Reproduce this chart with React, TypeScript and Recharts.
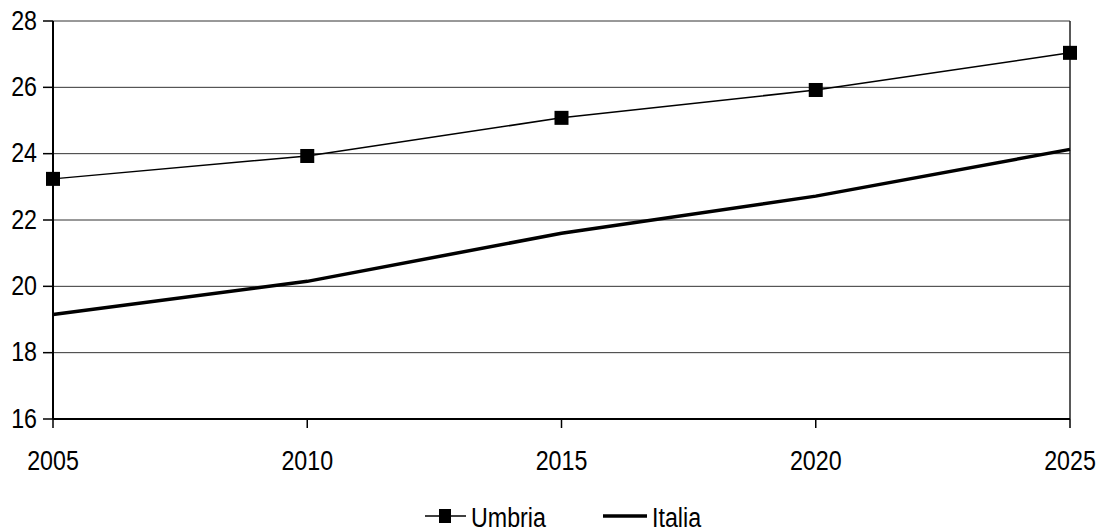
import React from "react";
import {
  LineChart,
  Line,
  XAxis,
  YAxis,
  CartesianGrid,
  Legend,
  ReferenceLine,
} from "recharts";

// Years and the two series (values in %)
const YEARS = [2005, 2010, 2015, 2020, 2025];
const UMBRIA = [23.24, 23.93, 25.08, 25.92, 27.04];
const ITALIA = [19.15, 20.15, 21.6, 22.72, 24.13];
const Y_TICKS = [16, 18, 20, 22, 24, 26, 28];

const SERIES_NAMES = { umbria: "Umbria", italia: "Italia" };

const chartData = YEARS.map((year, i) => ({
  year,
  umbria: UMBRIA[i],
  italia: ITALIA[i],
}));

const FONT = "'Liberation Sans', Arial, sans-serif";
const FONT_SIZE = 28;
const SQUEEZE = 0.83; // narrow look of the labels

// Y axis label, right-aligned and horizontally condensed
const YTick = (props: any) => {
  const { x, y, payload } = props;
  return (
    <text
      transform={`translate(${x},${y + 8.5}) scale(${SQUEEZE},1)`}
      textAnchor="end"
      fontFamily={FONT}
      fontSize={FONT_SIZE}
      fill="#000"
    >
      {payload.value}
    </text>
  );
};

const XTick = (props: any) => {
  const { x, y, payload } = props;
  return (
    <text
      transform={`translate(${x},${y + 42}) scale(${SQUEEZE},1)`}
      textAnchor="middle"
      fontFamily={FONT}
      fontSize={FONT_SIZE}
      fill="#000"
    >
      {payload.value}
    </text>
  );
};

// Filled square marker for Umbria
const SquareDot = (props: any) => {
  const { cx, cy, index } = props;
  if (cx == null || cy == null) return null;
  return <rect key={`sq-${index}`} x={cx - 7} y={cy - 7} width={14} height={14} fill="#000" />;
};

const LegendContent = () => (
  <svg width={1106} height={34} style={{ display: "block" }}>
    {/* Umbria */}
    <line x1={425} y1={16} x2={466} y2={16} stroke="#000" strokeWidth={1.5} />
    <rect x={439} y={9} width={12} height={14} fill="#000" />
    <text
      transform={`translate(471,27) scale(${SQUEEZE},1)`}
      fontFamily={FONT}
      fontSize={FONT_SIZE}
      fill="#000"
    >
      {SERIES_NAMES.umbria}
    </text>
    {/* Italia */}
    <line x1={603} y1={16} x2={647} y2={16} stroke="#000" strokeWidth={3.5} />
    <text
      transform={`translate(652,27) scale(${SQUEEZE},1)`}
      fontFamily={FONT}
      fontSize={FONT_SIZE}
      fill="#000"
    >
      {SERIES_NAMES.italia}
    </text>
  </svg>
);

export default function App() {
  return (
    <div style={{ position: "relative", width: 1106, height: 532, background: "#fff" }}>
      <style>{`body{margin:0;background:#fff}`}</style>
      <LineChart
        width={1106}
        height={532}
        data={chartData}
        margin={{ top: 21, right: 36, left: 0, bottom: 0 }}
      >
        <CartesianGrid vertical={false} stroke="#333" strokeWidth={1} />
        <XAxis
          dataKey="year"
          type="number"
          domain={[2005, 2025]}
          ticks={YEARS}
          height={113}
          tick={<XTick />}
          tickSize={9}
          tickMargin={0}
          axisLine={{ stroke: "#000", strokeWidth: 2 }}
          tickLine={{ stroke: "#000", strokeWidth: 1.5 }}
        />
        <YAxis
          domain={[16, 28]}
          ticks={Y_TICKS}
          width={53}
          tick={<YTick />}
          tickSize={10}
          tickMargin={6}
          axisLine={{ stroke: "#000", strokeWidth: 2 }}
          tickLine={{ stroke: "#000", strokeWidth: 1.5 }}
          interval={0}
        />
        <ReferenceLine x={2025} stroke="#222" strokeWidth={1.5} />
        <Line
          type="linear"
          dataKey="umbria"
          name={SERIES_NAMES.umbria}
          stroke="#000"
          strokeWidth={1.5}
          dot={<SquareDot />}
          activeDot={false}
          isAnimationActive={false}
        />
        <Line
          type="linear"
          dataKey="italia"
          name={SERIES_NAMES.italia}
          stroke="#000"
          strokeWidth={3.5}
          dot={false}
          activeDot={false}
          isAnimationActive={false}
        />
        <Legend
          layout="vertical"
          align="center"
          verticalAlign="middle"
          content={<LegendContent />}
          wrapperStyle={{ position: "absolute", top: 500, left: 0, width: 1106 }}
        />
      </LineChart>
    </div>
  );
}
